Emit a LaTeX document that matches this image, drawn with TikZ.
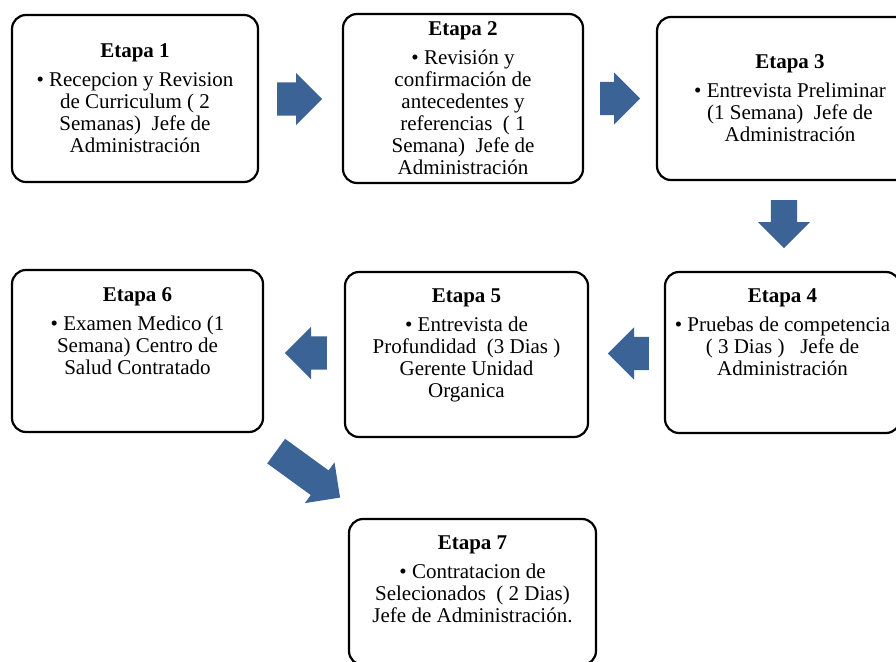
\documentclass[tikz,border=0pt]{standalone}
\usepackage{fontspec}
\setmainfont{Liberation Serif}
\usetikzlibrary{shapes.arrows}
\definecolor{flechaazul}{RGB}{59,99,150}

\begin{document}
\begin{tikzpicture}[x=1pt, y=-1pt,
  etapa/.style={draw, line width=2.2pt, rounded corners=14pt, inner sep=0},
  texto/.style={align=center, inner sep=0, font=\fontsize{21}{22}\selectfont},
  flecha/.style={single arrow, fill=flechaazul, draw=none, inner xsep=0pt,
    inner ysep=16.5pt, single arrow head extend=9.5pt, anchor=tail}]
  \clip (0,0) rectangle (896,661);
  % cajas de las etapas (fila de arriba, fila de abajo)
  \node[etapa, minimum width=246pt, minimum height=167pt] (e1) at (135,98.5) {};
  \node[etapa, minimum width=240pt, minimum height=169pt] (e2) at (463,98.5) {};
  \node[etapa, minimum width=266pt, minimum height=163pt] (e3) at (790,98.5) {};
  \node[etapa, minimum width=235pt, minimum height=161pt] (e4) at (782.5,352.5) {};
  \node[etapa, minimum width=243pt, minimum height=165pt] (e5) at (466.5,354.5) {};
  \node[etapa, minimum width=251pt, minimum height=162pt] (e6) at (137.5,351) {};
  \node[etapa, minimum width=247pt, minimum height=146pt] (e7) at (472.5,592) {};
  % textos
  \node[texto] (t1) at (e1.center) {\textbf{Etapa 1}\\[7pt]• Recepcion y Revision\\de Curriculum ( 2\\Semanas)~ Jefe de\\Administración};
  \node[texto] (t2) at (e2.center) {\textbf{Etapa 2}\\[7pt]• Revisión y\\confirmación de\\antecedentes y\\referencias~ ( 1\\Semana)~ Jefe de\\Administración};
  \node[texto] (t3) at (e3.center) {\textbf{Etapa 3}\\[7pt]• Entrevista Preliminar\\(1 Semana)~ Jefe de\\Administración};
  \node[texto, anchor=north] (t4) at ([yshift=-18pt]e4.north) {\textbf{Etapa 4}\\[7pt]• Pruebas de competencia\\( 3 Dias )~~ Jefe de\\Administración};
  \node[texto, anchor=north] (t5) at ([yshift=-18pt]e5.north) {\textbf{Etapa 5}\\[7pt]• Entrevista de\\Profundidad~ (3 Dias )\\Gerente Unidad\\Organica};
  \node[texto, anchor=north] (t6) at ([yshift=-18pt]e6.north) {\textbf{Etapa 6}\\[7pt]• Examen Medico (1\\Semana) Centro de\\Salud Contratado};
  \node[texto, anchor=north] (t7) at ([yshift=-18pt]e7.north) {\textbf{Etapa 7}\\[7pt]• Contratacion de\\Selecionados~ ( 2 Dias)\\Jefe de Administración.};
  % flechas (puestas por la cola)
  \node[flecha, minimum height=45pt] (f12) at (277,99) {};
  \node[flecha, minimum height=40pt] (f23) at (600,98.5) {};
  \node[flecha, minimum height=48pt, rotate=-90, inner ysep=13pt, single arrow head extend=13pt] (f34) at (784,200) {};
  \node[flecha, minimum height=41pt, rotate=180] (f45) at (649,353.5) {};
  \node[flecha, minimum height=42pt, rotate=180] (f56) at (327,353) {};
  \node[flecha, minimum height=79pt, rotate=-36, inner ysep=15pt, single arrow head extend=10pt] (f67) at (276,451) {};
\end{tikzpicture}
\end{document}
